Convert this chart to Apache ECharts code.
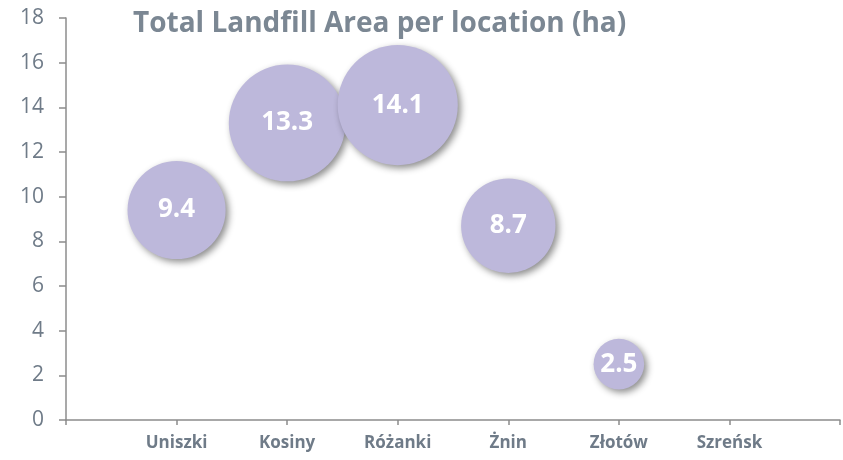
<!DOCTYPE html>
<html>
<head>
<meta charset="utf-8">
<script src="https://cdn.jsdelivr.net/npm/echarts@6/dist/echarts.min.js"></script>
<style>
  html, body { margin: 0; padding: 0; background: #fff; }
  #chart { width: 843px; height: 460px; }
</style>
</head>
<body>
<div id="chart"></div>
<script>
const categories = ['Uniszki', 'Kosiny', 'Różanki', 'Żnin', 'Złotów', 'Szreńsk']
const areaValues = [9.4, 13.3, 14.1, 8.7, 2.5, null]
const yTicks = [0, 2, 4, 6, 8, 10, 12, 14, 16, 18]

const font = 'Open Sans'
const textColor = '#6f7b88'
const axisColor = '#8c8c8c'

// bubble data: [position, value, size]
const bubbles = categories.map((name, i) => [i + 1, areaValues[i], areaValues[i]])
  .filter(d => d[1] != null)

const chart = echarts.init(document.getElementById('chart'), null, { renderer: 'canvas' })

chart.setOption({
  animation: false,
  title: {
    text: 'Total Landfill Area per location (ha)',
    left: 128,
    top: 5,
    textStyle: {
      fontFamily: font,
      fontWeight: 'bold',
      fontSize: 28,
      color: '#7b8793'
    }
  },
  grid: {
    left: 66,
    right: 0,
    top: 18,
    bottom: 40
  },
  xAxis: {
    type: 'value',
    min: 0,
    max: 7,
    interval: 1,
    splitLine: { show: false },
    axisLine: { lineStyle: { color: axisColor, width: 1.5 } },
    axisTick: { show: true, length: 5, lineStyle: { color: axisColor, width: 1.5 } },
    axisLabel: {
      margin: 15,
      fontFamily: font,
      fontWeight: 'bold',
      fontSize: 17,
      color: textColor,
      formatter: v => categories[v - 1] || ''
    }
  },
  yAxis: {
    type: 'value',
    min: yTicks[0],
    max: yTicks[yTicks.length - 1],
    interval: 2,
    splitLine: { show: false },
    axisLine: { show: true, lineStyle: { color: axisColor, width: 1.5 } },
    axisTick: { show: true, length: 7, lineStyle: { color: axisColor, width: 1.5 } },
    axisLabel: {
      margin: 22,
      fontFamily: font,
      fontSize: 21,
      color: textColor
    }
  },
  series: [
    {
      type: 'scatter',
      data: bubbles,
      symbolSize: d => 32 * Math.sqrt(d[2]),
      itemStyle: {
        color: '#bdb8db',
        opacity: 1,
        shadowColor: 'rgba(0, 0, 0, 0.45)',
        shadowBlur: 7,
        shadowOffsetX: 3,
        shadowOffsetY: 3
      },
      label: {
        show: true,
        position: 'inside',
        formatter: p => p.value[1].toFixed(1),
        fontFamily: font,
        fontWeight: 'bold',
        fontSize: 26,
        color: '#ffffff'
      }
    }
  ]
})
</script>
</body>
</html>
